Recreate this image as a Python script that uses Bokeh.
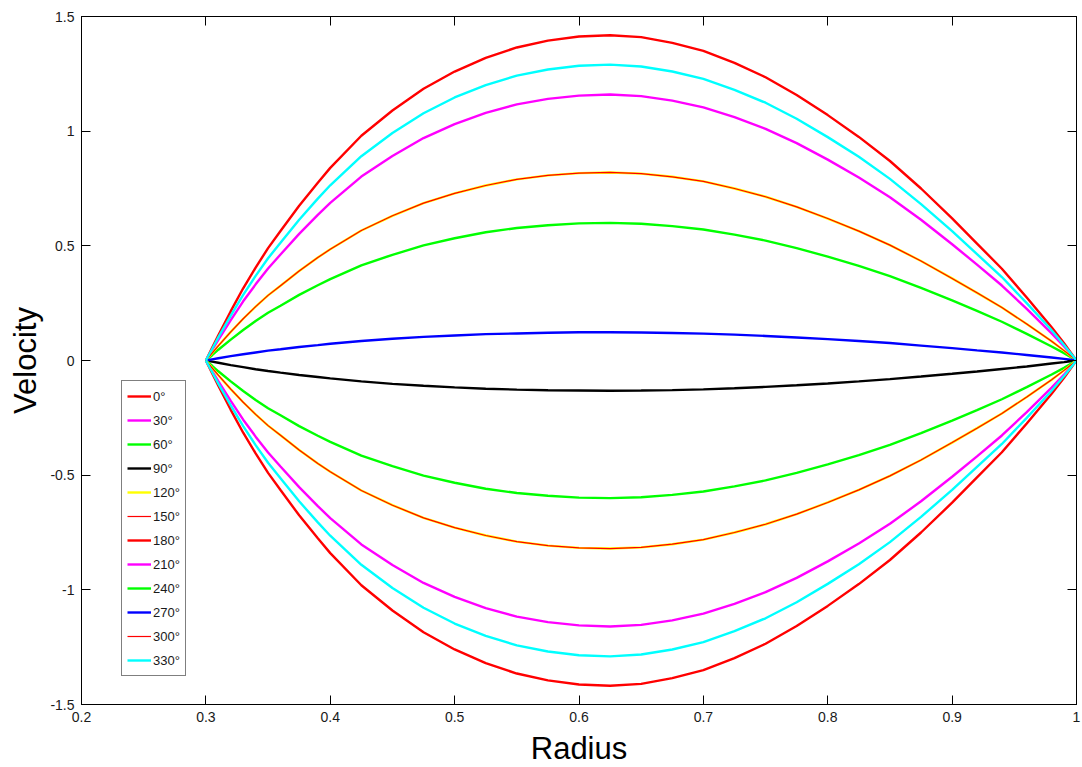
from bokeh.plotting import figure
from bokeh.models import (Range1d, FixedTicker, PrintfTickFormatter, LinearAxis,
                          Legend, LegendItem, CustomLabelingPolicy)
from bokeh.embed import file_html
from bokeh.resources import INLINE

# ---- data ----
radius = [0.300, 0.305, 0.310, 0.320, 0.330, 0.340, 0.350, 0.360, 0.375, 0.390,
          0.400, 0.425, 0.450, 0.475, 0.500, 0.525, 0.550, 0.575, 0.600, 0.625,
          0.650, 0.675, 0.700, 0.725, 0.750, 0.775, 0.800, 0.825, 0.850, 0.875,
          0.900, 0.920, 0.940, 0.960, 0.980, 0.990, 1.000]

v_0 = [0, 0.055, 0.11, 0.215, 0.315, 0.405, 0.49, 0.565, 0.675, 0.775,
       0.84, 0.98, 1.09, 1.185, 1.26, 1.32, 1.365, 1.395, 1.413, 1.418,
       1.41, 1.385, 1.35, 1.298, 1.235, 1.158, 1.07, 0.975, 0.87, 0.75,
       0.62, 0.51, 0.40, 0.275, 0.145, 0.075, 0]
v_30 = [0, 0.045, 0.090, 0.176, 0.258, 0.332, 0.401, 0.462, 0.552, 0.635,
        0.687, 0.802, 0.892, 0.970, 1.031, 1.080, 1.117, 1.141, 1.155, 1.16,
        1.153, 1.133, 1.104, 1.061, 1.010, 0.948, 0.876, 0.798, 0.712, 0.614,
        0.507, 0.418, 0.327, 0.225, 0.118, 0.061, 0]
v_60 = [0, 0.023, 0.047, 0.091, 0.133, 0.172, 0.208, 0.239, 0.286, 0.328,
        0.355, 0.415, 0.461, 0.502, 0.533, 0.559, 0.578, 0.590, 0.598, 0.60,
        0.596, 0.586, 0.571, 0.549, 0.523, 0.490, 0.453, 0.413, 0.368, 0.317,
        0.262, 0.216, 0.169, 0.116, 0.061, 0.032, 0]
v_90 = [0, -0.005, -0.010, -0.020, -0.029, -0.038, -0.046, -0.053, -0.063, -0.072,
        -0.078, -0.091, -0.102, -0.110, -0.117, -0.123, -0.127, -0.130, -0.131, -0.132,
        -0.131, -0.129, -0.126, -0.121, -0.115, -0.108, -0.100, -0.091, -0.081, -0.070,
        -0.058, -0.048, -0.037, -0.026, -0.013, -0.007, 0]
v_120 = [0, 0.032, 0.064, 0.125, 0.182, 0.235, 0.284, 0.326, 0.390, 0.449,
         0.485, 0.567, 0.631, 0.686, 0.729, 0.763, 0.790, 0.807, 0.817, 0.82,
         0.815, 0.801, 0.781, 0.750, 0.714, 0.670, 0.619, 0.564, 0.503, 0.434,
         0.358, 0.295, 0.231, 0.159, 0.084, 0.043, 0]
v_150 = [0, 0.032, 0.064, 0.125, 0.182, 0.235, 0.284, 0.326, 0.390, 0.449,
         0.485, 0.567, 0.631, 0.686, 0.729, 0.763, 0.790, 0.807, 0.817, 0.82,
         0.815, 0.801, 0.781, 0.750, 0.714, 0.670, 0.619, 0.564, 0.503, 0.434,
         0.358, 0.295, 0.231, 0.159, 0.084, 0.043, 0]
v_180 = [0, -0.055, -0.11, -0.215, -0.315, -0.405, -0.49, -0.565, -0.675, -0.775,
         -0.84, -0.98, -1.09, -1.185, -1.26, -1.32, -1.365, -1.395, -1.413, -1.418,
         -1.41, -1.385, -1.35, -1.298, -1.235, -1.158, -1.07, -0.975, -0.87, -0.75,
         -0.62, -0.51, -0.40, -0.275, -0.145, -0.075, 0]
v_210 = [0, -0.045, -0.090, -0.176, -0.258, -0.332, -0.401, -0.462, -0.552, -0.635,
         -0.687, -0.802, -0.892, -0.970, -1.031, -1.080, -1.117, -1.141, -1.155, -1.16,
         -1.153, -1.133, -1.104, -1.061, -1.010, -0.948, -0.876, -0.798, -0.712, -0.614,
         -0.507, -0.418, -0.327, -0.225, -0.118, -0.061, 0]
v_240 = [0, -0.023, -0.047, -0.091, -0.133, -0.172, -0.208, -0.239, -0.286, -0.328,
         -0.355, -0.415, -0.461, -0.502, -0.533, -0.559, -0.578, -0.590, -0.598, -0.60,
         -0.596, -0.586, -0.571, -0.549, -0.523, -0.490, -0.453, -0.413, -0.368, -0.317,
         -0.262, -0.216, -0.169, -0.116, -0.061, -0.032, 0]
v_270 = [0, 0.005, 0.010, 0.019, 0.027, 0.035, 0.043, 0.049, 0.059, 0.067,
         0.073, 0.085, 0.095, 0.103, 0.109, 0.115, 0.118, 0.121, 0.123, 0.123,
         0.122, 0.120, 0.117, 0.113, 0.107, 0.100, 0.093, 0.085, 0.076, 0.065,
         0.054, 0.044, 0.035, 0.024, 0.013, 0.007, 0]
v_300 = [0, -0.032, -0.064, -0.125, -0.182, -0.235, -0.284, -0.326, -0.390, -0.449,
         -0.485, -0.567, -0.631, -0.686, -0.729, -0.763, -0.790, -0.807, -0.817, -0.82,
         -0.815, -0.801, -0.781, -0.750, -0.714, -0.670, -0.619, -0.564, -0.503, -0.434,
         -0.358, -0.295, -0.231, -0.159, -0.084, -0.043, 0]
v_330 = [0, 0.050, 0.101, 0.196, 0.286, 0.369, 0.446, 0.513, 0.614, 0.706,
         0.764, 0.891, 0.992, 1.078, 1.147, 1.201, 1.242, 1.269, 1.285, 1.29,
         1.282, 1.260, 1.228, 1.180, 1.124, 1.054, 0.974, 0.888, 0.792, 0.682,
         0.564, 0.464, 0.364, 0.250, 0.132, 0.068, 0]
# curves drawn in the reference without a legend entry
v_extra_cyan = [0, -0.050, -0.101, -0.196, -0.286, -0.369, -0.446, -0.513, -0.614, -0.706,
                -0.764, -0.891, -0.992, -1.078, -1.147, -1.201, -1.242, -1.269, -1.285, -1.29,
                -1.282, -1.260, -1.228, -1.180, -1.124, -1.054, -0.974, -0.888, -0.792, -0.682,
                -0.564, -0.464, -0.364, -0.250, -0.132, -0.068, 0]
v_extra_yellow = [0, -0.032, -0.064, -0.125, -0.182, -0.235, -0.284, -0.326, -0.390, -0.449,
                  -0.485, -0.567, -0.631, -0.686, -0.729, -0.763, -0.790, -0.807, -0.817, -0.82,
                  -0.815, -0.801, -0.781, -0.750, -0.714, -0.670, -0.619, -0.564, -0.503, -0.434,
                  -0.358, -0.295, -0.231, -0.159, -0.084, -0.043, 0]

labels = ["0°", "30°", "60°", "90°", "120°", "150°", "180°", "210°", "240°", "270°", "300°", "330°"]
series = [v_0, v_30, v_60, v_90, v_120, v_150, v_180, v_210, v_240, v_270, v_300, v_330]
colors = ["#FF0000", "#FF00FF", "#00FF00", "#000000", "#FFFF00", "#FF0000",
          "#FF0000", "#FF00FF", "#00FF00", "#0000FF", "#FF0000", "#00FFFF"]
widths = [2.4, 2.4, 2.4, 2.4, 2.4, 1.2, 2.4, 2.4, 2.4, 2.4, 1.2, 2.4]

x_ticks = [0.2, 0.3, 0.4, 0.5, 0.6, 0.7, 0.8, 0.9, 1.0]
y_ticks = [-1.5, -1.0, -0.5, 0.0, 0.5, 1.0, 1.5]

FONT = "Liberation Sans"

p = figure(frame_width=995, frame_height=688,
           x_range=Range1d(0.2, 1.0), y_range=Range1d(-1.5, 1.5),
           output_backend="svg", toolbar_location=None,
           min_border_left=81, min_border_top=16, min_border_right=2, min_border_bottom=10,
           background_fill_color="white", border_fill_color="white")
p.xgrid.grid_line_color = None
p.ygrid.grid_line_color = None
p.outline_line_color = "black"
p.outline_line_width = 1

hide_all = CustomLabelingPolicy(code="""
    for (const i of Array.from(indices)) indices.unset(i)
    return indices
""")

def style_axis(ax, ticks, show_labels=True):
    ax.ticker = FixedTicker(ticks=ticks)
    ax.formatter = PrintfTickFormatter(format="%g")
    ax.major_tick_in = 9
    ax.major_tick_out = 0
    ax.minor_tick_line_color = None
    ax.axis_line_color = "black"
    ax.major_tick_line_color = "black"
    if show_labels:
        ax.major_label_text_font = FONT
        ax.major_label_text_font_size = "14px"
        ax.major_label_text_color = "#1a1a1a"
        ax.major_label_standoff = 7
    else:
        ax.major_label_policy = hide_all
        ax.major_label_text_font_size = "1px"
        ax.major_label_standoff = 0

style_axis(p.xaxis[0], x_ticks)
style_axis(p.yaxis[0], y_ticks)
p.xaxis[0].axis_label = "Radius"
p.yaxis[0].axis_label = "Velocity"
for ax in (p.xaxis[0], p.yaxis[0]):
    ax.axis_label_text_font = FONT
    ax.axis_label_text_font_size = "31px"
    ax.axis_label_text_font_style = "normal"
    ax.axis_label_text_color = "black"
p.xaxis[0].axis_label_standoff = 6
p.yaxis[0].axis_label_standoff = 4

top_ax = LinearAxis()
style_axis(top_ax, x_ticks, show_labels=False)
p.add_layout(top_ax, "above")
right_ax = LinearAxis()
style_axis(right_ax, y_ticks, show_labels=False)
p.add_layout(right_ax, "right")

items = []
for lab, vals, col, w in zip(labels, series, colors, widths):
    if lab == "300°":
        p.line(radius, v_extra_yellow, line_color="#FFFF00", line_width=2.4)
    r = p.line(radius, vals, line_color=col, line_width=w)
    items.append(LegendItem(label=lab, renderers=[r]))
p.line(radius, v_extra_cyan, line_color="#00FFFF", line_width=2.4)

legend = Legend(items=items, location=(40, 28),
                glyph_width=24, glyph_height=20, label_height=20, spacing=4,
                padding=5, margin=0, label_standoff=2,
                label_text_font=FONT, label_text_font_size="13px",
                label_text_color="#1a1a1a",
                border_line_color="black", border_line_width=1,
                background_fill_color="white", background_fill_alpha=1)
p.add_layout(legend)

open("out.html", "w").write(file_html(p, INLINE))
